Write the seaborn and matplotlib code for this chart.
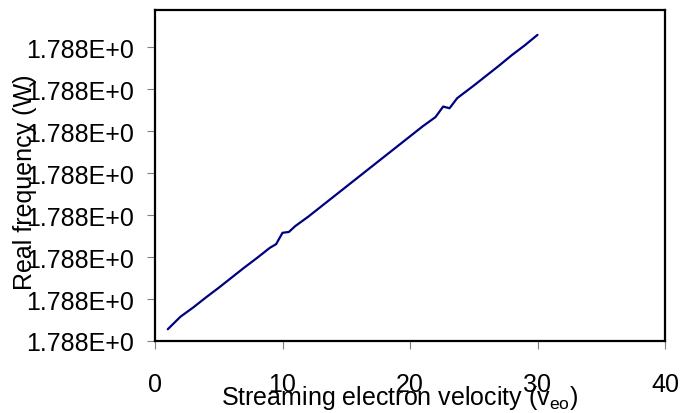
import matplotlib
matplotlib.use("Agg")
import matplotlib.pyplot as plt
import seaborn as sns
import pandas as pd

# Streaming electron velocity (x) and real frequency offset in tick units (y)
velocity = [1, 2, 3, 4, 5, 6, 7, 8, 9, 9.5, 10, 10.5, 11, 12, 13, 14, 15, 16, 17, 18,
            19, 20, 21, 22, 22.6, 23.1, 23.7, 24, 25, 26, 27, 28, 29, 30]
frequency = [0.28, 0.58, 0.80, 1.04, 1.27, 1.51, 1.75, 1.98, 2.22, 2.31, 2.58, 2.60, 2.74,
             2.96, 3.20, 3.44, 3.68, 3.92, 4.16, 4.40, 4.64, 4.88, 5.12, 5.34, 5.59, 5.55,
             5.79, 5.86, 6.09, 6.33, 6.57, 6.82, 7.05, 7.30]
x_ticks = [0, 10, 20, 30, 40]
y_ticks = [0, 1, 2, 3, 4, 5, 6, 7]
y_tick_labels = ["1.788E+0"] * 8

sns.set_style("white")
plt.rcParams['font.family'] = ['Liberation Sans', 'DejaVu Sans']
plt.rcParams['text.color'] = 'black'
plt.rcParams['axes.labelcolor'] = 'black'
plt.rcParams['xtick.color'] = 'black'
plt.rcParams['ytick.color'] = 'black'

fig = plt.figure(figsize=(6.94, 4.14), dpi=100)
ax = fig.add_axes([155/694, 1 - 342/414, (665-155)/694, (342-10.7)/414])

df = pd.DataFrame({"v": velocity, "f": frequency})
sns.lineplot(data=df, x="v", y="f", ax=ax, color="#000080", linewidth=1.6, sort=False)

ax.set_xlim(0, 40)
ax.set_ylim(0, 7.9)
ax.set_xticks(x_ticks)
ax.set_xticklabels([str(t) for t in x_ticks])
ax.set_yticks(y_ticks)
ax.set_yticklabels(y_tick_labels)

for s in ax.spines.values():
    s.set_color("black")
    s.set_linewidth(1.6)
    s.set_visible(True)

ax.tick_params(axis="x", direction="out", length=6, width=0.8, color="#808080",
               labelcolor="black", pad=16, labelsize=18, bottom=True)
ax.tick_params(axis="y", direction="out", length=6, width=0.8, color="#808080",
               labelcolor="black", pad=9, labelsize=18, left=True)

ax.set_xlabel("Streaming electron velocity (v$_{\\mathregular{eo}}$)", fontsize=18, color="black")
ax.xaxis.set_label_coords((400-155)/(665-155), -(398-342)/(342-10.7), transform=ax.transAxes)
ax.xaxis.label.set_va("center")
ax.set_ylabel("Real frequency (W)", fontsize=18, color="black")
ax.yaxis.set_label_coords(-(155-25)/(665-155), 0.5 - (182-176)/(342-10.7))
ax.yaxis.label.set_va("center")

fig.savefig("out.png", dpi=100)
